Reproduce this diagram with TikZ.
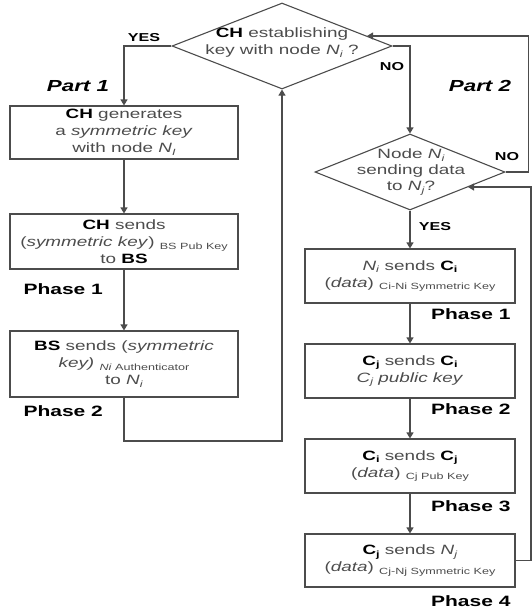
\documentclass[tikz,border=0pt]{standalone}
\usepackage{fontspec}
\setmainfont{Liberation Sans}[FakeStretch=1.4]
\usetikzlibrary{shapes.geometric,arrows.meta}
\definecolor{txtgray}{gray}{0.3}
\definecolor{linegray}{gray}{0.3}
\newcommand\B[1]{\textbf{\color{black}#1}}
\newcommand\Sb[1]{\raisebox{-0.4ex}{\fontsize{9}{9}\selectfont #1}}
\begin{document}
\begin{tikzpicture}[x=1pt,y=-1pt,
  every node/.style={text=txtgray},
  body/.style={font=\fontsize{13.5}{17}\selectfont, align=center},
  box/.style={body, draw=linegray, line width=1.1pt, rectangle, inner sep=0pt},
  lbox/.style={box, minimum width=228pt},
  rbox/.style={box, minimum width=210pt},
  dia/.style={draw=linegray, line width=1.1pt, diamond, inner sep=0pt},
  phase/.style={font=\fontsize{15}{15}\selectfont\bfseries, text=black},
  part/.style={font=\fontsize{16}{16}\selectfont\bfseries\itshape, text=black},
  yn/.style={font=\fontsize{11.5}{12}\selectfont\bfseries, text=black},
  conn/.style={draw=linegray, line width=1.1pt},
  arr/.style={conn, -{Triangle[width=7pt,length=6pt]}}]
\useasboundingbox (0,0) rectangle (531,611);
% diamonds
\node[dia, minimum width=220pt, minimum height=86pt] (d1) at (282,46) {};
\node[body] (d1t) at (282,43) {\B{CH} establishing\\key with node \textit{N}\Sb{\textit{i}} ?};
\node[dia, minimum width=190pt, minimum height=76pt] (d2) at (410,172) {};
\node[body, font=\fontsize{13.5}{16}\selectfont] (d2t) at (411,172) {Node \textit{N}\Sb{\textit{i}}\\sending data\\to \textit{N}\Sb{\textit{j}}?};
% left boxes
\node[lbox, minimum height=53pt] (b1) at (124,132.5) {\B{CH} generates\\a \textit{symmetric key}\\with node \textit{N}\Sb{\textit{I}}};
\node[lbox, minimum height=55pt] (b2) at (124,241.5) {\B{CH} sends\\(\textit{symmetric key}) \Sb{BS Pub Key}\\to \B{BS}};
\node[lbox, minimum height=66pt] (b3) at (124,364) {\B{BS} sends (\textit{symmetric}\\\textit{key)} \Sb{\textit{Ni} Authenticator}\\to \textit{N}\Sb{\textit{i}}};
% right boxes
\node[rbox, minimum height=54pt] (r1) at (410,276) {\textit{N}\Sb{\textit{i}} sends \B{C\Sb{i}}\\(\textit{data}) \Sb{Ci-Ni Symmetric Key}};
\node[rbox, minimum height=54pt] (r2) at (410,371) {\B{C\Sb{j}} sends \B{C\Sb{i}}\\\textit{C\Sb{j} public key}};
\node[rbox, minimum height=54pt] (r3) at (410,466) {\B{C\Sb{i}} sends \B{C\Sb{j}}\\(\textit{data}) \Sb{Cj Pub Key}};
\node[rbox, minimum height=53pt] (r4) at (410,560.5) {\B{C\Sb{j}} sends \textit{N}\Sb{\textit{j}}\\(\textit{data}) \Sb{Cj-Nj Symmetric Key}};
% labels
\node[part] (p1) at (78,86) {Part 1};
\node[part] (p2) at (480,86) {Part 2};
\node[yn] (yes1) at (144,38) {YES};
\node[yn] (no1) at (392,67) {NO};
\node[yn] (no2) at (507,157) {NO};
\node[yn] (yes2) at (435,227) {YES};
\node[phase, anchor=west] (ph1l) at (20,289) {Phase 1};
\node[phase, anchor=west] (ph2l) at (20,411) {Phase 2};
\node[phase, anchor=east] (ph1r) at (514,314) {Phase 1};
\node[phase, anchor=east] (ph2r) at (514,409) {Phase 2};
\node[phase, anchor=east] (ph3r) at (514,506) {Phase 3};
\node[phase, anchor=east] (ph4r) at (514,601) {Phase 4};
% helper coordinates
\coordinate (loopL) at (124,441);
\coordinate (loopR) at (282,441);
\coordinate (noR1) at (528.5,172);
\coordinate (noR2) at (528.5,36);
\coordinate (d1in) at (367,36);
\coordinate (retR1) at (531,560.5);
\coordinate (retR2) at (531,187);
\coordinate (d2in) at (468,187);
% connectors
\draw[arr] (d1.west) -| (b1.north);
\draw[arr] (b1) -- (b2);
\draw[arr] (b2) -- (b3);
\draw[arr] (b3.south) -- (loopL) -- (loopR) -- (d1.south);
\draw[arr] (d1.east) -| (d2.north);
\draw[arr] (d2.south) -- (r1.north);
\draw[arr] (r1) -- (r2);
\draw[arr] (r2) -- (r3);
\draw[arr] (r3) -- (r4);
\draw[arr] (d2.east) -- (noR1) -- (noR2) -- (d1in);
\draw[arr] (r4.east) -- (retR1) -- (retR2) -- (d2in);
\end{tikzpicture}
\end{document}
